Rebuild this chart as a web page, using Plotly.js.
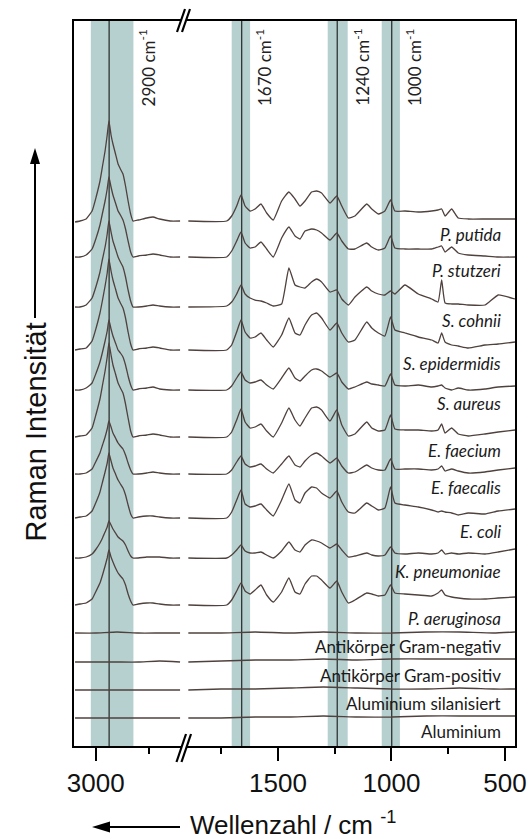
<!DOCTYPE html>
<html><head><meta charset="utf-8">
<script src="https://cdn.plot.ly/plotly-3.0.1.min.js"></script>
<style>html,body{margin:0;padding:0;background:#fff;}#chart{width:532px;height:839px;}</style>
</head><body><div id="chart"></div>
<script>
// ---------- DATA ----------
// wavenumber grids (cm^-1)
const chWavenumbers = [3097, 3074, 3045, 3017, 2998, 2980, 2968, 2956, 2946, 2938, 2928, 2919, 2907, 2895, 2884, 2872, 2860, 2848, 2836, 2825, 2800, 2760, 2731, 2700, 2650, 2604];
const fpWavenumbers = [1895, 1726, 1704, 1682, 1663, 1645, 1623, 1601, 1575, 1550, 1521, 1484, 1452, 1425, 1403, 1381, 1352, 1330, 1308, 1271, 1241, 1219, 1190, 1161, 1109, 1087, 1058, 1029, 1004, 985, 941, 882, 823, 795, 779, 764, 735, 706, 662, 588, 530, 456];
const refChWavenumbers = [3097, 3000, 2900, 2800, 2700, 2604];
const refFpWavenumbers = [1895, 1750, 1600, 1450, 1300, 1150, 1000, 850, 700, 550, 456];

// intensities (a.u.) relative to each spectrum's baseline
const putidaCH     = [-1,0,2,10,24,40,55,70,86,100,86,77,67,57,52,47,35,20,7,0,1,3,4,2,0,0];
const putidaFP     = [0,0,5,15,26,15,10,12,17,8,1,20,29,22,15,20,29,30,28,18,25,15,3,5,17,12,7,10,21,10,10,9,10,11,12,5,12,3,2,2,2,2];
const stutzeriCH   = [0,0,2,8,19,32,44,56,68,80,70,62,54,46,42,37,28,16,5,0,1,2,3,2,0,0];
const stutzeriFP   = [0,0,6,16,25,14,9,10,15,8,0,19,30,21,18,26,28,27,24,17,24,16,8,8,14,10,7,9,21,9,8,8,8,10,11,5,10,4,2,1,0,0];
const cohniiCH     = [0,0,2,9,21,35,48,60,73,86,75,66,58,50,45,40,30,17,6,0,0,1,2,1,0,0];
const cohniiFP     = [0,1,5,13,22,13,9,7,6,4,1,3,39,22,20,19,25,28,25,15,17,8,2,10,20,16,13,12,16,13,22,13,8,5,27,4,3,3,2,2,12,8];
const epidermidisCH= [0,1,2,9,22,37,50,64,77,91,79,70,61,52,47,42,32,18,6,0,1,2,3,2,0,0];
const epidermidisFP= [0,0,5,18,30,18,12,13,17,10,3,15,32,17,15,25,35,37,32,20,27,17,8,10,28,22,17,14,33,20,17,13,10,7,17,8,5,4,2,5,6,8];
const aureusCH     = [0,0,2,7,17,28,38,49,59,70,61,54,47,40,37,33,25,14,5,0,1,2,3,1,0,0];
const aureusFP     = [0,0,4,12,18,10,7,8,10,5,1,12,22,12,9,14,20,21,19,13,17,8,1,3,8,6,5,4,16,5,4,5,3,4,5,2,0,2,0,1,3,4];
const faeciumCH    = [0,1,2,9,23,38,52,66,80,94,82,72,63,54,49,44,33,19,6,0,1,2,3,2,0,0];
const faeciumFP    = [0,0,5,17,28,15,9,10,13,6,0,14,29,17,11,19,29,30,27,16,27,12,1,3,15,9,6,7,22,8,7,7,6,7,13,4,9,3,1,3,5,7];
const faecalisCH   = [0,0,1,5,13,21,29,37,45,53,47,41,36,31,28,25,19,11,4,0,0,1,2,1,0,0];
const faecalisFP   = [0,0,4,12,18,10,7,8,10,5,1,10,18,9,7,13,19,21,18,11,16,8,1,2,9,6,4,4,15,5,5,5,4,5,8,3,5,3,1,2,4,6];
const coliCH       = [0,1,2,7,16,26,36,46,55,65,57,50,44,38,34,30,23,13,4,0,1,2,2,1,0,0];
const coliFP       = [0,0,6,18,28,14,11,12,14,8,2,18,34,18,15,25,31,30,25,20,27,16,6,5,15,12,8,10,31,15,13,11,8,6,7,6,5,3,5,4,7,9];
const pneumoniaeCH = [0,0,1,4,9,15,20,26,31,37,33,29,25,21,19,17,13,7,2,0,0,1,1,1,0,0];
const pneumoniaeFP = [0,0,3,8,13,7,5,5,6,3,0,7,16,8,6,13,18,17,15,10,14,8,1,2,5,3,2,3,11,5,4,5,4,5,8,4,5,4,5,4,6,9];
const aeruginosaCH = [0,1,2,6,14,22,30,39,47,55,48,43,37,32,29,26,20,11,4,0,1,2,2,1,0,0];
const aeruginosaFP = [0,0,5,14,22,14,11,15,20,10,3,13,27,13,11,21,29,29,25,17,24,13,2,5,12,11,9,10,20,12,11,10,9,12,15,10,8,7,6,6,7,8];
const abNegCH  = [0,0,1,0,0,0];
const abNegFP  = [0,0,1,0,1,0,0,1,1,0,1];
const abPosCH  = [0,0,0,0,1,0];
const abPosFP  = [0,1,2,2,3,2,3,3,3,3,3];
const alSilCH  = [0,0,0,0,0,0];
const alSilFP  = [0,1,1,2,3,2,1,1,2,1,1];
const alCH     = [0,0,0,0,0,0];
const alFP     = [0,0,1,1,2,1,1,2,2,2,2];

const sampleNames = ['P. putida','P. stutzeri','S. cohnii','S. epidermidis','S. aureus','E. faecium','E. faecalis','E. coli','K. pneumoniae','P. aeruginosa','Antikörper Gram-negativ','Antikörper Gram-positiv','Aluminium silanisiert','Aluminium'];
const italicName = [true,true,true,true,true,true,true,true,true,true,false,false,false,false];
const stackOffsets = [526, 490, 440, 397, 357, 310, 273, 229, 189, 142, 114, 85, 57, 29];
const chSpectra = [putidaCH, stutzeriCH, cohniiCH, epidermidisCH, aureusCH, faeciumCH, faecalisCH, coliCH, pneumoniaeCH, aeruginosaCH, abNegCH, abPosCH, alSilCH, alCH];
const fpSpectra = [putidaFP, stutzeriFP, cohniiFP, epidermidisFP, aureusFP, faeciumFP, faecalisFP, coliFP, pneumoniaeFP, aeruginosaFP, abNegFP, abPosFP, alSilFP, alFP];

const peakLines  = [2937, 1660, 1239, 999];
const peakLabels = ['2900', '1670', '1240', '1000'];
const peakBands  = [[3023, 2823], [1704, 1623], [1281, 1193], [1043, 963]];

const leftTicks = [3000], leftMinor = [2750];
const rightTicks = [1500, 1000, 500], rightMinor = [1750, 1250, 750];

// ---------- LAYOUT HELPERS ----------
const W = 532, H = 839, ML = 73, MR = 16, MT = 20, MB = 92;
const PW = W - ML - MR, PH = H - MT - MB;
const px = v => (v - ML) / PW;
const py = v => (H - MB - v) / PH;
const split = px(183);

const lineColor = '#4f413d';
const traces = [];
for (let i = 0; i < sampleNames.length; i++) {
  const isRef = i >= 10;
  const cw = isRef ? refChWavenumbers : chWavenumbers;
  const fw = isRef ? refFpWavenumbers : fpWavenumbers;
  traces.push({x: cw, y: chSpectra[i].map(v => v + stackOffsets[i]), xaxis: 'x', yaxis: 'y',
    mode: 'lines', line: {color: lineColor, width: 1.3, shape: 'spline', smoothing: 0.4}, hoverinfo: 'skip', name: sampleNames[i]});
  traces.push({x: fw, y: fpSpectra[i].map(v => v + stackOffsets[i]), xaxis: 'x2', yaxis: 'y',
    mode: 'lines', line: {color: lineColor, width: 1.3, shape: 'spline', smoothing: 0.4}, hoverinfo: 'skip', name: sampleNames[i]});
}

const shapes = [];
const bandColor = '#b6cfcf';
peakBands.forEach((b, i) => {
  shapes.push({type: 'rect', xref: i === 0 ? 'x' : 'x2', yref: 'paper', x0: b[0], x1: b[1], y0: 0, y1: 1,
    fillcolor: bandColor, line: {width: 0}, layer: 'below'});
});
peakLines.forEach((v, i) => {
  shapes.push({type: 'line', xref: i === 0 ? 'x' : 'x2', yref: 'paper', x0: v, x1: v, y0: 0, y1: 1,
    line: {color: '#2f3333', width: 1.3}, layer: 'below'});
});
// frame
shapes.push({type: 'rect', xref: 'paper', yref: 'paper', x0: 0, x1: 1, y0: 0, y1: 1, line: {color: '#000', width: 2}, fillcolor: 'rgba(0,0,0,0)'});
// axis break marks
function breakMark(xa, ya, xb, yb, dx) {
  const p = (X, Y) => px(X) + ' ' + py(Y);
  shapes.push({type: 'path', xref: 'paper', yref: 'paper',
    path: 'M ' + p(xa, ya) + ' L ' + p(xb, yb) + ' L ' + p(xb + dx, yb) + ' L ' + p(xa + dx, ya) + ' Z',
    fillcolor: '#fff', line: {width: 0}});
  shapes.push({type: 'line', xref: 'paper', yref: 'paper', x0: px(xa), y0: py(ya), x1: px(xb), y1: py(yb), line: {color: '#000', width: 2.2}});
  shapes.push({type: 'line', xref: 'paper', yref: 'paper', x0: px(xa + dx), y0: py(ya), x1: px(xb + dx), y1: py(yb), line: {color: '#000', width: 2.2}});
}
breakMark(177, 32, 185, 9, 5);
breakMark(176.5, 762, 186, 734, 5);
// axis arrows
function arrow(x0, y0, x1, y1, len, half) {
  const dx = x1 - x0, dy = y1 - y0, L = Math.hypot(dx, dy), ux = dx / L, uy = dy / L;
  const bx = x1 - ux * len, by = y1 - uy * len;
  shapes.push({type: 'line', xref: 'paper', yref: 'paper', x0: px(x0), y0: py(y0), x1: px(bx), y1: py(by), line: {color: '#000', width: 2}});
  const p = (X, Y) => px(X) + ' ' + py(Y);
  shapes.push({type: 'path', xref: 'paper', yref: 'paper',
    path: 'M ' + p(x1, y1) + ' L ' + p(bx - uy * half, by + ux * half) + ' L ' + p(bx + uy * half, by - ux * half) + ' Z',
    fillcolor: '#000', line: {width: 0}});
}
arrow(35, 318, 35, 148, 16, 5);
arrow(180, 827, 92, 827, 18, 5.5);

const annotations = [];
peakBands.forEach((b, i) => {
  annotations.push({xref: i === 0 ? 'x' : 'x2', yref: 'paper', x: b[1], xshift: 13.5, y: py(27),
    xanchor: 'center', yanchor: 'top', textangle: -90, showarrow: false,
    text: peakLabels[i] + ' cm<sup>-1</sup>', font: {family: 'Lato, Open Sans, sans-serif', size: 17, color: '#222'}});
});
sampleNames.forEach((n, i) => {
  annotations.push({xref: 'paper', yref: 'y', x: px(503), y: stackOffsets[i] - 13.5, xanchor: 'right', yanchor: 'middle',
    showarrow: false, text: italicName[i] ? '<i>' + n + '</i>' : n,
    font: {family: 'Lato, Open Sans, sans-serif', size: 17, color: '#1a1a1a'}});
});
annotations.push({xref: 'paper', yref: 'paper', x: px(35), y: py(321), xanchor: 'center', yanchor: 'top',
  textangle: -90, showarrow: false, text: 'Raman Intensität',
  font: {family: 'Liberation Sans, Arial, sans-serif', size: 29, color: '#111'}});
annotations.push({xref: 'paper', yref: 'paper', x: px(188), y: py(823), xanchor: 'left', yanchor: 'middle',
  showarrow: false, text: 'Wellenzahl / cm <sup>-1</sup>',
  font: {family: 'Liberation Sans, Arial, sans-serif', size: 26, color: '#111'}});

const tickFont = {family: 'Liberation Sans, Arial, sans-serif', size: 26, color: '#111'};
const axisCommon = {showgrid: false, zeroline: false, showline: false, ticks: 'outside', ticklen: 13, tickwidth: 2,
  tickcolor: '#000', tickfont: tickFont, fixedrange: true, tickmode: 'array'};

const layout = {
  width: W, height: H, margin: {l: ML, r: MR, t: MT, b: MB},
  paper_bgcolor: '#fff', plot_bgcolor: '#fff', showlegend: false,
  xaxis: Object.assign({}, axisCommon, {domain: [0, split], range: [3106.6, 2590.2], anchor: 'y',
    tickvals: leftTicks, ticktext: leftTicks.map(String),
    minor: {tickmode: 'array', tickvals: leftMinor, ticks: 'outside', ticklen: 6, tickwidth: 2, tickcolor: '#000'}}),
  xaxis2: Object.assign({}, axisCommon, {domain: [split, 1], range: [1918.5, 451.5], anchor: 'y',
    tickvals: rightTicks, ticktext: rightTicks.map(String),
    minor: {tickmode: 'array', tickvals: rightMinor, ticks: 'outside', ticklen: 6, tickwidth: 2, tickcolor: '#000'}}),
  yaxis: {range: [0, PH], visible: false, fixedrange: true, domain: [0, 1]},
  shapes: shapes, annotations: annotations
};
Plotly.newPlot('chart', traces, layout, {staticPlot: true, displayModeBar: false});
</script></body></html>
